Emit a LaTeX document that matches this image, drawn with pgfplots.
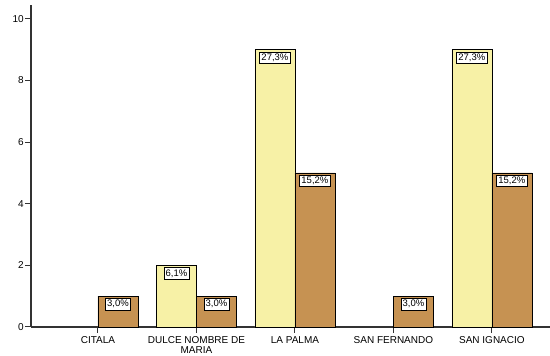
\documentclass[border=0pt]{standalone}
\usepackage{pgfplots}
\pgfplotsset{compat=1.18}
\usepackage{fontspec}
\setmainfont{Liberation Sans}
\definecolor{ybar}{RGB}{247,241,166}
\definecolor{bbar}{RGB}{198,146,82}
\definecolor{axgray}{RGB}{51,51,51}
\begin{document}
\begin{tikzpicture}
\useasboundingbox (-31pt,-29pt) rectangle (519pt,327pt);
\begin{axis}[
  at={(0pt,0pt)}, anchor=south west,
  scale only axis, width=519pt, height=322pt,
  xmin=-0.68, xmax=4.59, ymin=0, ymax=10.45,
  axis x line=bottom, axis y line=left,
  axis line style={-, axgray, line width=1.4pt},
  ytick={0,2,4,6,8,10},
  xtick={0,1,2,3,4},
  xticklabels={CITALA,{DULCE NOMBRE DE\\MARIA},LA PALMA,SAN FERNANDO,SAN IGNACIO},
  xticklabel style={align=center, inner sep=1pt, yshift=-2pt, font=\fontsize{10}{10.5}\selectfont},
  yticklabel style={inner sep=1pt, font=\fontsize{10}{10}\selectfont},
  tick style={axgray, line width=1pt},
  tick align=outside, major tick length=6pt,
  ticklabel style={text=black},
  /pgf/number format/assume math mode=true,
  ybar, bar width=0.406,
  nodes near coords={\pgfplotspointmeta\%},
  point meta=explicit symbolic,
  every node near coord/.append style={anchor=north, yshift=-2pt, fill=white, draw=black, line width=0.5pt, inner sep=1.8pt, font=\fontsize{9.5}{10}\selectfont},
  clip=false,
]
\addplot[fill=ybar, draw=black, line width=0.6pt, bar shift=-0.203] coordinates {
  (1,2) [6,1]
  (2,9) [27,3]
  (4,9) [27,3]
};
\addplot[fill=bbar, draw=black, line width=0.6pt, bar shift=0.203] coordinates {
  (0,1) [3,0]
  (1,1) [3,0]
  (2,5) [15,2]
  (3,1) [3,0]
  (4,5) [15,2]
};
\end{axis}
\end{tikzpicture}
\end{document}
